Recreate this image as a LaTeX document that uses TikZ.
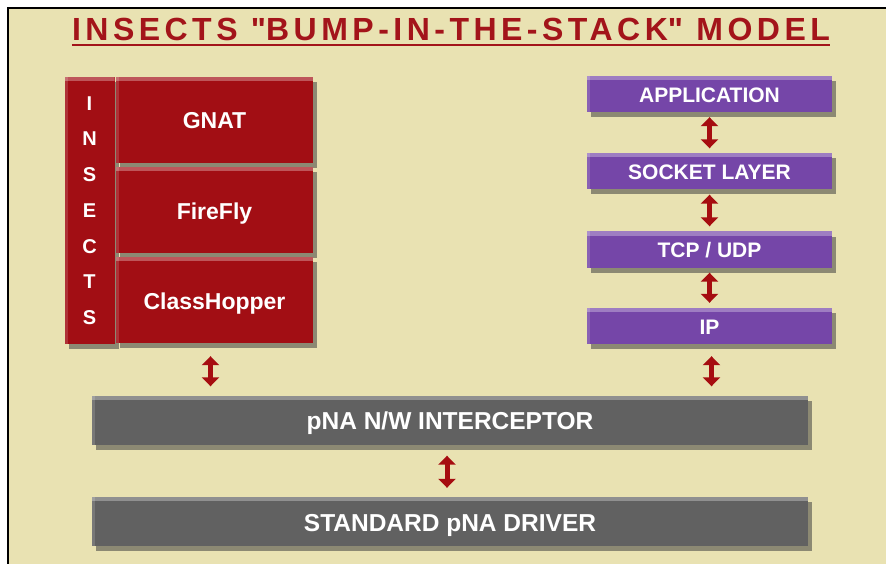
\documentclass[tikz,border=0pt]{standalone}
\usepackage{fontspec}
\setmainfont{Liberation Sans}
\usetikzlibrary{shadows,arrows.meta,positioning}
\definecolor{paper}{HTML}{E9E2B2}
\definecolor{titlered}{HTML}{A3141A}
\definecolor{insred}{HTML}{A20E14}
\definecolor{layerpurple}{HTML}{7546A8}
\definecolor{pnagray}{HTML}{616161}
\definecolor{arrowred}{HTML}{A60D10}
\def\link#1#2#3{\draw[updown] ([yshift=-#3]#1.south) -- ([yshift=#3]#2.north)}
\tikzstyle{box}=[inner sep=0pt,text=white,text depth=0pt,text height=17pt,font=\bfseries\fontsize{21}{24}\selectfont,
  drop shadow={shadow xshift=4pt,shadow yshift=-5pt,opacity=.55,fill=black!75},
  path picture={\fill[white,opacity=.3] (path picture bounding box.north west) rectangle ([yshift=-4pt]path picture bounding box.north east);
    \fill[white,opacity=.15] (path picture bounding box.north west) rectangle ([xshift=3pt]path picture bounding box.south west);}]
\tikzstyle{insect}=[box,fill=insred,minimum width=197pt,minimum height=86pt,text height=18pt,font=\bfseries\fontsize{23}{26}\selectfont]
\tikzstyle{layer}=[box,fill=layerpurple,minimum width=245pt,minimum height=36pt]
\tikzstyle{pna}=[box,fill=pnagray,minimum width=716pt,minimum height=49pt,text height=19pt,font=\bfseries\fontsize{24.5}{27}\selectfont]
\tikzstyle{updown}=[{Triangle[width=17pt,length=9pt]}-{Triangle[width=17pt,length=9pt]},line width=5pt,color=arrowred]
\tikzstyle{title}=[inner sep=0pt,text=titlered,font=\bfseries\fontsize{32}{33}\selectfont\addfontfeature{LetterSpace=14}]
\begin{document}
\begin{tikzpicture}[x=1pt,y=-1pt]
  \useasboundingbox (0,0) rectangle (886,564);
  \fill[white] (0,0) rectangle (886,564);
  \fill[paper] (8,8) rectangle (886,564);
  \draw[black,line width=1.5pt] (8,564) -- (8,8) -- (886,8);
  % title
  \node[title] (title) at (451,29) {INSECTS \textquotedbl BUMP-IN-THE-STACK\textquotedbl{} MODEL};
  \draw[titlered,line width=2pt] ([yshift=-4pt]title.south west) -- ([yshift=-4pt]title.south east);
  % insects block
  \node[box,fill=insred,minimum width=50pt,minimum height=267pt,align=center,text height=,
    font=\bfseries\fontsize{20}{35.7}\selectfont] (insects) at (89.5,210.5) {I\\N\\S\\E\\C\\T\\S};
  \node[insect] (gnat) at (214.5,120) {GNAT};
  \node[insect] (firefly) at (214.5,210) {FireFly};
  \node[insect] (hopper) at (214.5,300) {ClassHopper};
  % protocol stack
  \node[layer] (app) at (709.5,94) {APPLICATION};
  \node[layer] (socket) at (709.5,171.5) {SOCKET LAYER};
  \node[layer] (tcp) at (709.5,249.5) {TCP / UDP};
  \node[layer] (ip) at (709.5,326) {IP};
  % pNA
  \node[pna] (intercept) at (450,420) {pNA N/W INTERCEPTOR};
  \node[pna] (driver) at (450,521.5) {STANDARD pNA DRIVER};
  % links
  \link{app}{socket}{5pt};
  \link{socket}{tcp}{5pt};
  \link{tcp}{ip}{5pt};
  \coordinate[xshift=-4pt] (leftlink) at (hopper.south);
  \draw[updown] ([yshift=-13pt]leftlink) -- ([yshift=9pt]leftlink |- intercept.north);
  \draw[updown] ([xshift=2pt,yshift=-12pt]ip.south) -- ([xshift=2pt,yshift=9pt]ip.south |- intercept.north);
  \draw[updown] ([xshift=-3pt,yshift=-11pt]intercept.south) -- ([xshift=-3pt,yshift=9pt]driver.north);
\end{tikzpicture}
\end{document}
